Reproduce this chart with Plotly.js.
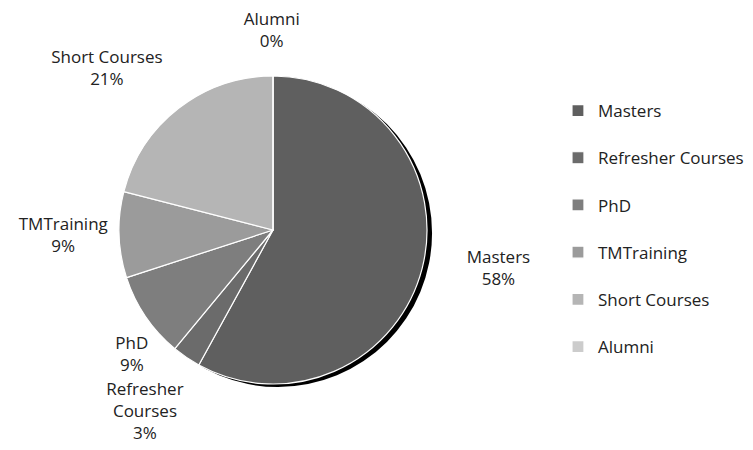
<!DOCTYPE html>
<html>
<head>
<meta charset="utf-8">
<script src="https://cdn.plot.ly/plotly-3.0.1.min.js"></script>
<style>html,body{margin:0;padding:0;background:#fff;}#chart{width:753px;height:450px;}</style>
</head>
<body>
<div id="chart"></div>
<script>
var categories = ["Masters", "Refresher Courses", "PhD", "TMTraining", "Short Courses", "Alumni"];
var values = [58, 3, 9, 9, 21, 0];
var pieLabels = ["Masters", "Refresher<br>Courses", "PhD", "TMTraining", "Short Courses", "Alumni"];
var colors = ["#5f5f5f", "#6b6b6b", "#7e7e7e", "#9b9b9b", "#b5b5b5", "#cccccc"];
// label placement group of each slice
var labelGroup = ["far", "low", "low", "near", "far", "top"];

var W = 753, H = 450;
var cx = 273, cy = 230, R = 154;
// label layer geometry: radius and offset of the (invisible) label pie
var groups = {
  near: {r: 154, dx: 0, dy: 0},
  far: {r: 178, dx: 10, dy: -8},
  low: {r: 154, dx: 14, dy: 30},
  top: {r: 178, dx: 38, dy: 0}
};
function domain(r, dx, dy) {
  return {x: [(cx + dx - r) / W, (cx + dx + r) / W], y: [(H - cy - dy - r) / H, (H - cy - dy + r) / H]};
}
var FONT = '"Open Sans", Lato, sans-serif';
var textFont = {family: FONT, size: 17, color: '#222222'};
function tmpl(g) {
  return pieLabels.map(function (l, i) { return labelGroup[i] === g ? l + '<br>%{percent:.0%}' : ''; });
}

var shadow = {
  type: 'pie', values: [1], labels: ['shadow'], marker: {colors: ['#000000']},
  domain: domain(R, 5, 3),
  textinfo: 'none', hoverinfo: 'skip', showlegend: false, sort: false
};

var pie = {
  type: 'pie',
  values: values,
  labels: categories.map(function (c) { return c + '<br> '; }),
  textinfo: 'none',
  texttemplate: tmpl('near'),
  textposition: 'outside',
  sort: false,
  direction: 'clockwise',
  rotation: 0,
  marker: {colors: colors, line: {color: '#ffffff', width: 1.2}},
  domain: domain(R, 0, 0),
  outsidetextfont: textFont,
  automargin: false
};

var traces = [shadow, pie];
['far', 'low', 'top'].forEach(function (g) {
  var G = groups[g];
  traces.push({
    type: 'pie',
    values: values,
    labels: categories.map(function (c) { return g + ' ' + c; }),
    textinfo: 'none',
    texttemplate: tmpl(g),
    textposition: 'outside',
    sort: false,
    direction: 'clockwise',
    rotation: 0,
    marker: {colors: values.map(function () { return 'rgba(0,0,0,0)'; }), line: {width: 0}},
    domain: domain(G.r, G.dx, G.dy),
    outsidetextfont: textFont,
    showlegend: false,
    hoverinfo: 'skip',
    automargin: false
  });
});

var layout = {
  width: W, height: H,
  margin: {l: 0, r: 0, t: 0, b: 0},
  paper_bgcolor: '#ffffff',
  showlegend: true,
  legend: {
    x: 0.741, xanchor: 'left', y: 0.7933, yanchor: 'top',
    valign: 'top',
    font: textFont,
    bgcolor: 'rgba(0,0,0,0)'
  }
};

Plotly.newPlot('chart', traces, layout, {staticPlot: true});
</script>
</body>
</html>
